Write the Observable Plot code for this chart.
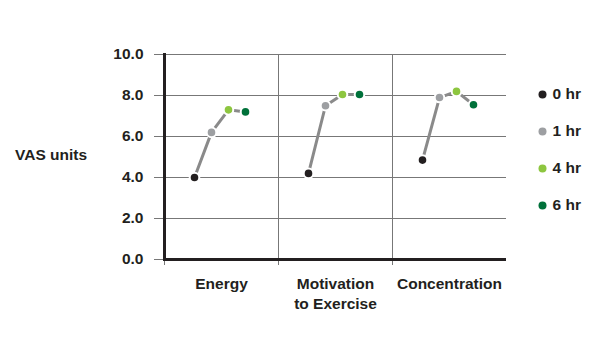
<!DOCTYPE html>
<html>
<head>
<meta charset="utf-8">
<script src="https://cdn.jsdelivr.net/npm/d3@7"></script>
<script src="https://cdn.jsdelivr.net/npm/@observablehq/plot@0.6"></script>
<style>
  html, body { margin: 0; padding: 0; background: #fff; }
  body { width: 600px; height: 350px; position: relative; overflow: hidden;
         font-family: Arial, "Liberation Sans", Helvetica, sans-serif; }
  #chart { position: absolute; left: 0; top: 0; }
  #legend { position: absolute; left: 532px; top: 74px; }
</style>
</head>
<body>
<div id="chart"></div>
<div id="legend"></div>
<script>
const categories = ["Energy", "Motivation to Exercise", "Concentration"];
const categoryLabels = ["Energy", "Motivation\nto Exercise", "Concentration"];
const times = ["0 hr", "1 hr", "4 hr", "6 hr"];
const energy = [4.0, 6.2, 7.3, 7.2];
const motivation = [4.2, 7.5, 8.05, 8.05];
const concentration = [4.85, 7.9, 8.2, 7.55];
const timeColors = ["#231f20", "#9d9fa2", "#8dc63f", "#00713a"];
const yTicks = [0, 2, 4, 6, 8, 10];

const series = [energy, motivation, concentration];
const data = categories.flatMap((c, ci) =>
  times.map((t, ti) => ({category: c, time: t, value: series[ci][ti]})));

const textColor = "#231f20";
const font = "Arial, 'Liberation Sans', Helvetica, sans-serif";

const chart = Plot.plot({
  width: 600,
  height: 350,
  marginLeft: 163,
  marginRight: 94,
  marginTop: 54,
  marginBottom: 91,
  style: {fontFamily: font, fontSize: "15.5px", fontWeight: "bold", color: textColor, background: "transparent", overflow: "visible"},
  fx: {domain: categories, padding: 0, axis: null, label: null},
  x: {type: "point", domain: times, padding: 1.8, align: 0.47, axis: null, label: null},
  y: {domain: [0, 10], ticks: yTicks, axis: null, label: null},
  color: {domain: times, range: timeColors},
  marks: [
    Plot.gridY(yTicks, {stroke: "#777", strokeOpacity: 1, strokeWidth: 1, insetLeft: -10}),
    Plot.frame({anchor: "left", stroke: "#777", strokeWidth: 1, insetBottom: -5}),
    Plot.frame({anchor: "left", stroke: textColor, strokeWidth: 3, fx: () => categories[0]}),
    Plot.ruleY([0], {stroke: textColor, strokeWidth: 3}),
    Plot.axisY(yTicks, {label: null, tickSize: 0, tickPadding: 21, tickFormat: d => d.toFixed(1), fontSize: 15.5, fontWeight: "bold", fill: textColor}),
    Plot.text(categories, {fx: d => d, text: (d, i) => categoryLabels[i], frameAnchor: "bottom", lineAnchor: "top", dy: 16, lineHeight: 1.25, fill: textColor, fontSize: 15.5, fontWeight: "bold"}),
    Plot.line(data, {fx: "category", x: "time", y: "value", stroke: "#8a8a8a", strokeWidth: 3}),
    Plot.dot(data, {fx: "category", x: "time", y: "value", fill: "time", r: 4.8, stroke: "white", strokeWidth: 2})
  ]
});
document.getElementById("chart").append(chart);

const legend = Plot.plot({
  width: 68,
  height: 150,
  margin: 0,
  style: {fontFamily: font, fontSize: "15.5px", fontWeight: "bold", color: textColor, background: "transparent", overflow: "visible"},
  x: {axis: null},
  y: {type: "point", domain: times, padding: 0.5, axis: null},
  color: {domain: times, range: timeColors},
  marks: [
    Plot.dot(times, {y: d => d, fill: d => d, r: 4, frameAnchor: "left", dx: 10}),
    Plot.text(times, {y: d => d, text: d => d, frameAnchor: "left", textAnchor: "start", dx: 20, fill: textColor, fontWeight: "bold", fontSize: 15.5})
  ]
});
document.getElementById("legend").append(legend);

// y-axis title
const ylab = document.createElement("div");
ylab.textContent = "VAS units";
Object.assign(ylab.style, {position: "absolute", left: "15px", top: "146px", fontSize: "15.5px", fontWeight: "bold", color: textColor, fontFamily: font, whiteSpace: "nowrap"});
document.body.append(ylab);
</script>
</body>
</html>
